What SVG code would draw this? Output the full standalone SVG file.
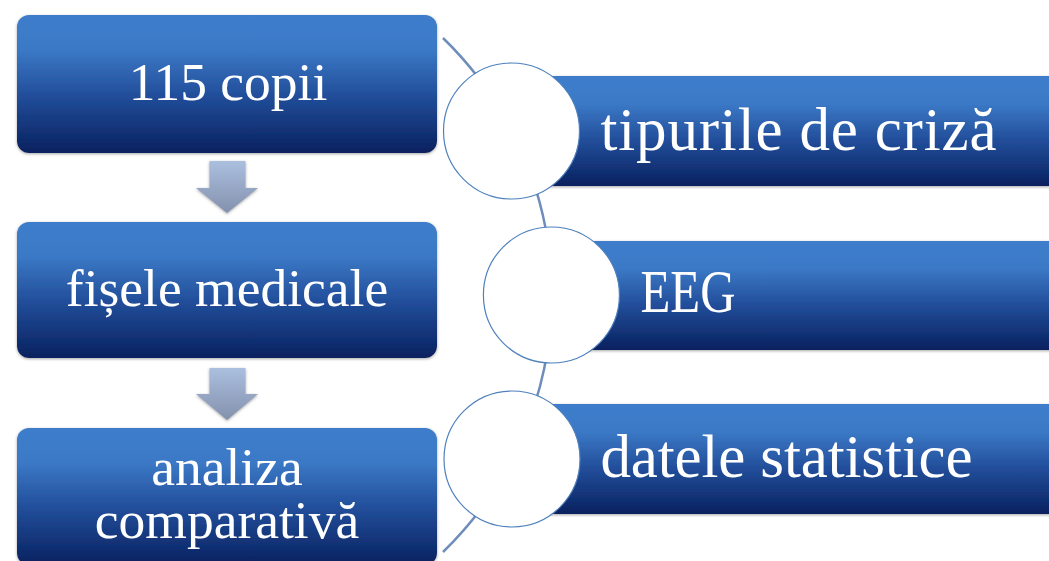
<svg xmlns="http://www.w3.org/2000/svg" width="1049" height="561" viewBox="0 0 1049 561">
<defs>
<linearGradient id="gBox" x1="0" y1="0" x2="0" y2="1">
<stop offset="0" stop-color="#3d7dcb"/>
<stop offset="0.25" stop-color="#3b79c6"/>
<stop offset="0.6" stop-color="#214c98"/>
<stop offset="1" stop-color="#08215f"/>
</linearGradient>
<linearGradient id="gArrow" x1="0" y1="0" x2="0" y2="1">
<stop offset="0" stop-color="#abbfdf"/>
<stop offset="1" stop-color="#8391ad"/>
</linearGradient>
<filter id="sh" x="-5%" y="-10%" width="110%" height="125%">
<feGaussianBlur in="SourceAlpha" stdDeviation="1.6"/>
<feOffset dx="0" dy="1" result="b"/>
<feFlood flood-color="#808080" flood-opacity="0.7"/>
<feComposite in2="b" operator="in"/>
<feMerge><feMergeNode/><feMergeNode in="SourceGraphic"/></feMerge>
</filter>
</defs>
<style>
.box{fill:url(#gBox);filter:url(#sh)}
.bar{fill:url(#gBox);filter:url(#sh)}
.arr{fill:url(#gArrow);filter:url(#sh)}
.circ{fill:#ffffff;stroke:#4f81bd;stroke-width:1.2}
.lt{font-family:"Liberation Serif","DejaVu Serif",serif;font-size:53.5px;fill:#ffffff;text-anchor:middle}
.rt{font-family:"Liberation Serif","DejaVu Serif",serif;font-size:61px;fill:#ffffff}
.conn{fill:none;stroke:#6f8dba;stroke-width:2.5}
</style>
<rect width="1049" height="561" fill="#ffffff"/>
<g id="connectors">
<path class="conn" d="M 443 38 A 358 358 0 0 1 443 552"/>
<polygon class="arr" points="209.5,161 245.5,161 245.5,188 258,188 227,213 196,188 209.5,188"/>
<polygon class="arr" points="209.5,368 245.5,368 245.5,394 258,394 227,420 196,394 209.5,394"/>
</g>
<g id="node-115-copii">
<rect class="box" x="17" y="15" width="420" height="138" rx="12"/>
<text class="lt" x="228" y="100">115 copii</text>
</g>
<g id="node-fisele-medicale">
<rect class="box" x="17" y="222" width="420" height="136" rx="12"/>
<text class="lt" x="227" y="306">fișele medicale</text>
</g>
<g id="node-analiza">
<rect class="box" x="17" y="428" width="420" height="137" rx="12"/>
<text class="lt" x="227" y="485">analiza<tspan x="227" y="537.5">comparativă</tspan></text>
</g>
<g id="node-tipurile">
<rect class="bar" x="512" y="76" width="545" height="110"/>
<circle class="circ" cx="511.5" cy="131" r="68"/>
<text class="rt" x="600.5" y="150" textLength="396">tipurile de criză</text>
</g>
<g id="node-eeg">
<rect class="bar" x="551" y="241" width="506" height="109"/>
<circle class="circ" cx="551.4" cy="295" r="68"/>
<text class="rt" x="640.5" y="311.5" font-size="56" textLength="95" lengthAdjust="spacingAndGlyphs">EEG</text>
</g>
<g id="node-datele">
<rect class="bar" x="512" y="404" width="545" height="110"/>
<circle class="circ" cx="512" cy="459" r="68"/>
<text class="rt" x="600.5" y="476.5" textLength="372">datele statistice</text>
</g>
</svg>
